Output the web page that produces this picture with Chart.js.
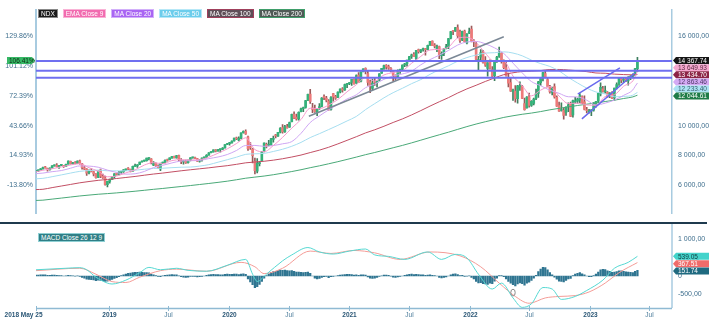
<!DOCTYPE html>
<html>
<head>
<meta charset="utf-8">
<title>NDX weekly</title>
<script src="https://cdn.jsdelivr.net/npm/chart.js@4.4.0/dist/chart.umd.min.js"></script>
<style>
  html, body { margin: 0; padding: 0; background: #fff; width: 715px; height: 332px; overflow: hidden; }
  #wrap { position: relative; width: 715px; height: 332px; font-family: "Liberation Sans", Arial, sans-serif; }
  #cPrice { position: absolute; left: 0; top: 0; }
  #cMacd { position: absolute; left: 0; top: 224px; }
  #legend { position: absolute; left: 38px; top: 9px; display: flex; gap: 5px; }
  .lg { font-size: 6.5px; line-height: 7px; height: 7px; padding: 0 2px; color: #fff; white-space: nowrap; border: 1px solid transparent; }
  #macdLegend { position: absolute; left: 38px; top: 226px; }
</style>
</head>
<body>
<div id="wrap">
  <canvas id="cPrice" width="715" height="224"></canvas>
  <canvas id="cMacd" width="715" height="108"></canvas>
  <div id="legend">
    <span class="lg" style="background:#1b1b1b;border-color:#888">NDX</span>
    <span class="lg" style="background:#f26cb0;border-color:#f9b3d6">EMA Close 9</span>
    <span class="lg" style="background:#a965f3;border-color:#d2b0fa">MA Close 20</span>
    <span class="lg" style="background:#6ccdec;border-color:#b7e8f7">MA Close 50</span>
    <span class="lg" style="background:#5f4f58;border-color:#a0405c">MA Close 100</span>
    <span class="lg" style="background:#505a56;border-color:#3f9e6a">MA Close 200</span>
  </div>
  <div id="macdLegend"><span class="lg" style="background:#2f7f86;border-color:#8fd0d4">MACD Close 26 12 9</span></div>
</div>
<script>
const FONT = '"Liberation Sans", Arial, sans-serif';

// ---- weekly NDX candles, one per week starting 2018-05-25 ----
const wkOpen = [
6930,6975,7040,7110,7200,7150,7050,7170,7310,7360,
7240,7340,7330,7280,7430,7620,7460,7530,7460,7640,
7450,7170,7090,6840,6970,6920,6750,6540,7050,6620,
6500,6050,6260,6390,6580,6760,6730,6880,6920,7040,
7090,7080,6960,7280,7300,7400,7570,7630,7660,7800,
7780,7350,7480,7290,7110,7490,7540,7680,7720,7830,
7940,7850,8000,7650,7580,7620,7520,7690,7850,7850,
7800,7630,7720,7840,7870,8030,8200,8250,8380,8300,
8400,8420,8520,8740,8800,8850,8980,9180,9040,9150,
9530,9630,9250,8560,8430,7620,6960,7450,7650,8310,
8750,8690,8700,9090,9350,9300,9560,9880,9600,9930,
9900,10280,10760,10580,10460,10950,11150,11230,11700,12130,
11200,11150,10900,11210,11300,11900,11860,11660,11100,12150,
11950,11900,12270,12480,12400,12760,12820,12900,13100,12850,
13400,12980,13620,13850,13500,12950,12500,12920,12880,13050,
13520,13850,14050,13960,13850,13700,13330,13300,13700,13780,
14070,14150,14400,14650,14780,14500,15100,14980,15100,15160,
15120,15400,15680,15360,15150,15300,14700,14860,15170,15300,
15870,16330,16340,16580,16300,15740,16350,15560,16200,16480,
15630,15480,14350,14590,14940,14250,13850,14270,13750,13360,
14300,14650,14870,14300,13900,13200,12890,12300,12330,11810,
12600,12640,11480,11200,11950,11360,11500,11830,12160,12880,
13220,13500,13100,12620,12240,12630,11900,11350,11020,11040,
10890,11310,11500,10720,11600,11640,11720,11960,11600,11060,
10930,11000,11050,11500,11650,12130,12480,12280,12240,11980,
12230,11860,12540,12800,13170,13050,13130,13000,13250,13330,
13400,13830
];
const wkHigh = [
6990,7050,7125,7220,7280,7160,7175,7320,7380,7460,
7340,7400,7350,7430,7650,7630,7550,7600,7640,7700,
7480,7300,7120,7050,7130,6960,6790,6980,7090,6760,
6620,6290,6420,6600,6790,6830,6940,6960,7060,7100,
7200,7090,7290,7430,7390,7570,7640,7690,7830,7870,
7800,7600,7520,7380,7500,7560,7720,7760,7850,7950,
7970,8020,8040,7800,7670,7700,7700,7860,7900,7900,
7820,7730,7850,7900,8060,8200,8260,8380,8400,8420,
8430,8530,8740,8820,8880,8990,9180,9240,9260,9530,
9650,9720,9300,8880,8480,7830,7800,7600,8290,8860,
8840,9020,9160,9300,9430,9560,9880,10080,10020,10090,
10240,10780,10940,10780,10940,11180,11250,11700,12130,12440,
11500,11390,11150,11480,11880,12080,11970,11750,11950,12170,
12030,12280,12470,12560,12790,12850,12900,13110,13150,13420,
13560,13620,13820,13880,13650,13050,13130,13190,13010,13490,
13850,14060,14100,14070,13900,13720,13420,13740,13800,14080,
14190,14400,14650,14800,14900,15060,15140,15100,15200,15190,
15400,15660,15700,15500,15400,15340,14950,15170,15450,15860,
16330,16400,16600,16765,16420,16340,16420,16180,16550,16680,
15780,15600,14660,15100,15050,14640,14230,14420,13970,14320,
14650,15265,14910,14420,14360,13530,13230,12450,12690,12710,
12950,12710,11860,11960,12190,11690,11850,12460,12980,13200,
13580,13720,13220,12710,12590,12810,12000,11590,11530,11180,
11270,11530,11590,11720,11900,11850,12160,12010,12000,11230,
11100,11080,11560,11630,12180,12880,12640,12660,12290,12230,
12290,12530,12880,13200,13220,13200,13220,13290,13370,13480,
13850,14580
];
const wkLow = [
6900,6920,7030,7090,7160,6960,7020,7150,7290,7230,
7140,7320,7200,7270,7420,7420,7420,7440,7450,7420,
7080,7060,6670,6770,6900,6640,6490,6510,6510,6460,
6010,5899,6150,6380,6500,6690,6700,6770,6870,7010,
7050,6900,6950,7270,7210,7390,7550,7600,7620,7700,
7440,7330,7270,7120,6980,7460,7500,7620,7710,7820,
7840,7830,7660,7460,7420,7470,7490,7640,7820,7790,
7600,7550,7630,7810,7850,8020,8180,8230,8250,8290,
8230,8390,8500,8730,8700,8830,8960,9060,8980,9120,
9500,9420,8340,8410,7510,6771,6830,7300,7630,8250,
8510,8650,8690,8900,9180,9290,9510,9500,9550,9830,
9880,10250,10480,10380,10380,10920,10950,11180,11680,11500,
10880,10900,10680,11100,11260,11750,11600,11040,11050,11650,
11770,11880,12200,12250,12370,12550,12760,12700,12790,12840,
12880,12940,13600,13480,12700,12210,12400,12700,12600,13000,
13500,13780,13800,13780,13600,12990,13050,13250,13500,13740,
13960,14000,14390,14520,14630,14400,14860,14900,15000,14730,
15080,15390,15360,15220,14960,14500,14440,14700,15150,15170,
15820,16100,16320,15900,15590,15700,15600,15480,16180,15620,
15300,14430,13720,14370,14200,13980,13320,13790,13290,13020,
14250,14580,14200,13830,13330,12600,12300,11690,11580,11520,
12370,11820,11040,11180,11250,11300,11400,11750,11900,12700,
13000,13200,12600,12180,12060,11840,11300,10960,10970,10440,
10690,10950,10600,10580,11520,11510,11540,11480,11060,10860,
10840,10670,10980,11250,11570,12000,12250,12180,11910,11880,
11820,11700,12470,12700,12880,12880,12960,12720,13090,13200,
13370,13620
];
const wkClose = [
6960.85,7036,7105,7193,7175,7040,7160,7312,7357,7247,
7334,7355,7270,7419,7625,7452,7517,7468,7627,7464,
7188,7088,6823,6959,6935,6770,6511,6949,6613,6506,
6059,6266,6395,6582,6778,6740,6867,6914,7042,7068,
7089,6946,7273,7300,7378,7568,7628,7659,7827,7846,
7523,7509,7319,7127,7487,7518,7682,7671,7843,7944,
7847,8005,7726,7597,7614,7506,7692,7852,7861,7805,
7632,7723,7835,7868,8023,8191,8248,8376,8292,8406,
8410,8507,8731,8806,8823,8971,9173,9115,9151,9521,
9623,9446,8462,8530,7995,6994,7502,7528,8231,8833,
8634,8718,9121,9152,9325,9556,9824,9588,9946,9849,
10208,10768,10504,10461,10905,11138,11193,11691,12110,11626,
11088,10938,11117,11272,11857,11886,11717,11052,11894,11938,
11855,12258,12465,12377,12755,12804,12888,13105,12804,13367,
12925,13612,13807,13653,12909,12669,12867,12898,12977,13480,
13845,14041,13951,13860,13720,13380,13282,13686,13774,14069,
14142,14394,14640,14749,14630,15049,14959,15093,15172,15106,
15390,15652,15365,15333,15310,14789,14833,15146,15310,15850,
16319,16317,16573,16025,15712,16331,15644,16150,16320,15632,
15611,14438,14441,14908,14253,14053,14216,13838,13302,14304,
14608,14862,14322,13899,13358,12855,12317,12388,11835,12681,
12621,11832,11084,11925,11365,11636,11782,12157,12947,13153,
13558,13222,12636,12272,12535,11931,11312,10971,11048,10692,
11245,11405,10618,11678,11677,11786,12014,11529,11087,11004,
10940,11040,11541,11619,12167,12574,12305,12358,11918,12181,
11831,12520,12767,13181,13063,13080,13070,13246,13259,13340,
13828,14367.74
];

// ---- moving averages, read every fourth week ----
const maWeeks = [0,3,7,11,15,19,23,27,31,35,39,43,47,51,55,59,63,67,71,75,79,83,87,91,95,99,
  103,107,111,115,119,123,127,131,135,139,143,147,151,155,159,163,167,171,175,179,183,187,191,
  195,199,203,207,211,215,219,223,227,231,235,239,243,247,251,255,259,260,261];
const ema9 = [6912,7015,7117,7240,7370,7458,7182,6951,6579,6625,6841,7041,7361,7526,7446,7663,7723,
  7704,7726,7896,8159,8450,8805,9192,8402,8257,8672,9219,9842,10418,11173,11145,11385,11758,12278,
  12749,13229,13000,13404,13564,13686,14189,14649,15080,15120,15271,15871,15935,15582,14862,14303,
  14328,13330,12682,12004,12383,12628,11986,11489,11515,11395,11371,11953,12074,12646,13004,13300,13649.93];
const ma20 = [6790,6825,6919,6994,7152,7306,7294,7218,7026,6862,6753,6780,6934,7197,7344,7507,7635,
  7657,7673,7796,7905,8069,8340,8676,8679,8618,8676,8787,8938,9490,10216,10655,11066,11425,11795,
  12072,12551,12792,13112,13338,13470,13667,14086,14435,14729,15046,15411,15616,15650,15493,15219,
  14842,14196,13545,12963,12682,12381,12173,11944,11931,11711,11384,11517,11720,12036,12400,12640,12863.46];
const ma50 = [6440,6473,6583,6702,6826,6940,6995,7024,6979,6972,6974,7016,7084,7134,7150,7188,7218,
  7230,7292,7391,7555,7720,7891,8081,8118,8147,8275,8424,8624,8881,9206,9467,9742,10023,10321,
  10621,11080,11481,11871,12217,12510,12821,13094,13446,13743,14018,14327,14571,14737,14869,14896,
  14954,14873,14687,14401,14166,13976,13676,13242,12865,12524,12263,12133,11941,11965,12047,12140,12233.40];
const ma100 = [5720,5739,5850,5957,6064,6173,6260,6339,6398,6461,6530,6600,6682,6761,6826,6903,6979,
  7047,7112,7177,7252,7321,7413,7513,7567,7618,7691,7787,7902,8034,8200,8363,8557,8782,9021,
  9263,9517,9728,9965,10219,10456,10724,11014,11317,11606,11884,12192,12470,12712,12969,13205,
  13425,13551,13633,13663,13698,13770,13773,13737,13691,13626,13537,13518,13459,13430,13411,13423,13434.70];
const ma200 = [4990,5009,5079,5149,5220,5291,5350,5406,5449,5496,5552,5608,5671,5736,5794,5861,5925,
  5990,6059,6128,6202,6282,6377,6481,6554,6626,6715,6818,6929,7049,7186,7311,7448,7590,7741,
  7897,8059,8205,8363,8523,8680,8851,9031,9214,9391,9568,9756,9942,10113,10268,10411,
  10558,10669,10768,10849,10949,11067,11165,11259,11356,11444,11527,11623,11712,11825,11934,11990,12044.61];

// ---- drawn levels and trendlines (week index, price) ----
const levelLines = [14337, 13683, 13219];
const trendGray = [[118.4, 10635], [203, 15968]];
const trendBlueA = [[235.1, 12114], [253.4, 13886]];
const trendBlueB = [[236.9, 10463], [259.9, 13537]];

// ---- MACD (26, 12, 9) ----
const macdWeeks = [0,13,19,22,26,31,33,39,45,49,54,61,66,74,83,91,94,96,100,107,111,118,123,129,136,
  143,147,153,160,170,176,182,187,192,198,202,207,211,215,220,224,228,234,239,246,251,257,261];
const macdLine = [171,212,228,171,-33,-195,-220,-114,90,236,171,212,154,130,293,455,49,-150,49,415,
  578,780,659,602,683,740,578,537,455,659,455,593,496,49,-358,-195,-602,-861,-764,-317,
  -358,-642,-561,-398,-114,212,374,539.05];
const signalWeeks = [0,19,26,33,39,45,54,61,74,89,95,99,107,119,128,138,147,158,171,184,193,201,208,
  214,221,227,234,240,247,253,261];
const signalLine = [146,212,49,-154,-179,-33,146,187,130,374,252,65,212,683,618,700,634,455,659,553,
  252,-195,-561,-748,-602,-561,-537,-439,-195,90,367.51];
const macdHist = [
25,28,30,32,30,20,18,22,25,15,
10,8,0,5,20,10,5,-5,5,-10,
-40,-60,-90,-95,-100,-110,-130,-115,-120,-130,
-150,-140,-120,-95,-70,-45,-20,10,35,55,
70,80,95,100,100,105,100,95,90,85,
55,30,10,-15,-20,5,15,25,35,40,
30,30,5,-20,-35,-40,-30,-15,-10,-15,
-25,-20,-10,0,15,30,40,45,40,40,
35,35,45,50,45,45,55,50,40,55,
60,45,-80,-160,-240,-320,-290,-230,-150,-60,
10,60,100,120,130,150,165,155,160,150,
140,150,130,110,110,100,90,100,110,70,
0,-60,-80,-70,-40,-20,-15,-45,-20,-10,
0,10,25,30,40,45,45,40,25,35,
15,30,35,25,-25,-60,-70,-60,-40,-15,
5,25,25,15,-5,-30,-40,-25,-15,0,
20,35,45,50,40,45,40,35,30,20,
25,30,20,10,0,-40,-50,-40,-25,0,
35,50,60,40,10,15,-10,-5,5,-40,
-80,-150,-190,-180,-210,-220,-230,-200,-210,-140,
-60,10,10,-20,-80,-150,-200,-240,-270,-220,
-190,-210,-250,-200,-170,-120,-60,20,120,190,
240,230,170,90,30,-30,-90,-140,-150,-160,
-120,-80,-70,10,50,70,90,60,30,0,
-20,-20,10,50,110,170,180,175,140,130,
100,110,120,140,140,130,115,110,100,95,
130,151.74
];
const macdNote = [207, -456];

// ---- axis ticks ----
const priceTicks = [6000, 8000, 10000, 12000, 14000, 16000];
const macdTicks = [-500, 0, 500, 1000];
const dateTicks = ['2018-05-25','2019-01-01','2019-07-01','2020-01-01','2020-07-01','2021-01-01',
  '2021-07-01','2022-01-01','2022-07-01','2023-01-01','2023-07-01'];
const dateTickLabels = ['2018 May 25','2019','Jul','2020','Jul','2021','Jul','2022','Jul','2023','Jul'];

// ---------------------------------------------------------------------------
const X_MAX = 276;
const firstDay = Date.UTC(2018, 4, 25);
const weekOf = s => (Date.parse(s + 'T00:00:00Z') - firstDay) / (7 * 864e5);
const basePrice = wkClose[0];

const group3 = s => s.replace(/\B(?=(\d{3})+(?!\d))/g, ' ');
function axisFmt(v) {
  if (v === 0) return '0';
  const p = Math.abs(v).toFixed(2).split('.');
  return (v < 0 ? '-' : '') + group3(p[0]) + ',' + p[1];
}
function tagFmt(v) {
  const p = Math.abs(v).toFixed(2).split('.');
  return (v < 0 ? '-' : '') + group3(p[0]) + '.' + p[1];
}
const pctFmt = v => ((v / basePrice - 1) * 100).toFixed(2) + '%';
const pts = (xs, ys) => xs.map((x, i) => ({ x: x, y: ys[i] }));
const seg = a => a.map(p => ({ x: p[0], y: p[1] }));
const last = a => a[a.length - 1];

const UP = '#33b27a', DOWN = '#ee7a7a';
const dir = wkClose.map((c, i) => c >= wkOpen[i]);

function drawTag(ctx, x, y, w, h, bg, fg, text, pointLeft) {
  ctx.save();
  ctx.fillStyle = bg;
  ctx.beginPath();
  if (pointLeft) {
    ctx.moveTo(x, y); ctx.lineTo(x + 3, y - h / 2); ctx.lineTo(x + w, y - h / 2);
    ctx.lineTo(x + w, y + h / 2); ctx.lineTo(x + 3, y + h / 2);
  } else {
    ctx.moveTo(x, y); ctx.lineTo(x - 3, y - h / 2); ctx.lineTo(x - w, y - h / 2);
    ctx.lineTo(x - w, y + h / 2); ctx.lineTo(x - 3, y + h / 2);
  }
  ctx.closePath();
  ctx.fill();
  ctx.fillStyle = fg;
  ctx.font = '6.5px ' + FONT;
  ctx.textBaseline = 'middle';
  ctx.textAlign = 'left';
  ctx.fillText(text, pointLeft ? x + 5 : x - w + 2, y + 0.5);
  ctx.restore();
}

function stackTags(ctx, yScale, list, xLeft, w, h, step) {
  list.sort((a, b) => b.v - a.v);
  let y = yScale.getPixelForValue(list[0].v);
  list.forEach((t, i) => {
    if (i > 0) y += step;
    drawTag(ctx, xLeft, y, w, h, t.bg, t.fg, t.text(t.v), true);
  });
}

const lineDs = (data, color, width, order) => ({
  type: 'line', data: data, borderColor: color, borderWidth: width, pointRadius: 0,
  cubicInterpolationMode: 'monotone', fill: false, order: order
});

// ---- price panel ----
const priceOverlay = {
  id: 'priceOverlay',
  afterDraw(chart) {
    const ctx = chart.ctx, y = chart.scales.y;
    // panel separator
    ctx.save();
    ctx.strokeStyle = '#1f3a4e';
    ctx.lineWidth = 2;
    ctx.beginPath(); ctx.moveTo(0, 223); ctx.lineTo(707, 223); ctx.stroke();
    ctx.restore();
    // last-value tags
    stackTags(ctx, y, [
      { v: last(wkClose), bg: '#151515', fg: '#ffffff', text: tagFmt },
      { v: last(ema9), bg: '#f6a8cf', fg: '#5a2c44', text: tagFmt },
      { v: last(ma100), bg: '#8c2446', fg: '#ffffff', text: tagFmt },
      { v: last(ma20), bg: '#d4aaf4', fg: '#4d3866', text: tagFmt },
      { v: last(ma50), bg: '#ace3f4', fg: '#37606e', text: tagFmt },
      { v: last(ma200), bg: '#1e7c47', fg: '#ffffff', text: tagFmt }
    ], chart.chartArea.right + 1, 36, 7, 7.1);
    drawTag(ctx, chart.chartArea.left - 1, y.getPixelForValue(last(wkClose)), 28, 7,
      '#36b865', '#0d2a14', pctFmt(last(wkClose)), false);
  }
};

new Chart(document.getElementById('cPrice').getContext('2d'), {
  type: 'bar',
  data: {
    datasets: [
      lineDs(levelLines.length ? seg([[0, levelLines[0]], [X_MAX, levelLines[0]]]) : [], '#6f6ff0', 2, 0),
      lineDs(seg([[0, levelLines[1]], [X_MAX, levelLines[1]]]), '#6f6ff0', 2, 0),
      lineDs(seg([[0, levelLines[2]], [X_MAX, levelLines[2]]]), '#6f6ff0', 2, 0),
      lineDs(seg(trendGray), '#7b8896', 1.5, 0),
      lineDs(seg(trendBlueA), '#6a6aee', 1.5, 0),
      lineDs(seg(trendBlueB), '#6a6aee', 1.5, 0),
      lineDs(pts(maWeeks, ema9), '#f59acb', 1, 2),
      lineDs(pts(maWeeks, ma20), '#cfa6f3', 1, 2),
      lineDs(pts(maWeeks, ma50), '#a6def0', 1, 2),
      lineDs(pts(maWeeks, ma100), '#c24f64', 1, 2),
      lineDs(pts(maWeeks, ma200), '#4aa978', 1, 2),
      {
        type: 'bar', grouped: false, order: 6, barThickness: 1,
        data: wkLow.map((l, i) => ({ x: i, y: [l, wkHigh[i]] })),
        backgroundColor: dir.map(u => u ? '#3f7f5f' : '#9a5a5a')
      },
      {
        type: 'bar', grouped: false, order: 5, barThickness: 2, minBarLength: 1,
        data: wkOpen.map((o, i) => ({ x: i, y: [o, wkClose[i]] })),
        backgroundColor: dir.map(u => u ? UP : DOWN)
      }
    ]
  },
  options: {
    responsive: false, animation: false, devicePixelRatio: 1,
    layout: { padding: { top: 8, bottom: 1, left: 0, right: 0 } },
    plugins: { legend: { display: false }, tooltip: { enabled: false } },
    scales: {
      x: { type: 'linear', min: 0, max: X_MAX, offset: false, display: false },
      y: {
        position: 'right', min: 4095, max: 17746,
        afterFit: s => { s.width = 43; },
        afterBuildTicks: s => { s.ticks = priceTicks.map(v => ({ value: v })); },
        grid: { display: false, drawTicks: false },
        border: { display: true, color: '#a8cbe0', width: 1.5 },
        ticks: { autoSkip: false, padding: 6, color: '#3f6f8e', font: { size: 7, family: FONT }, callback: v => axisFmt(v) }
      },
      yPct: {
        position: 'left', min: 4095, max: 17746,
        afterFit: s => { s.width = 36; },
        afterBuildTicks: s => { s.ticks = priceTicks.map(v => ({ value: v })); },
        grid: { display: false, drawTicks: false },
        border: { display: true, color: '#a8cbe0', width: 2 },
        ticks: { autoSkip: false, padding: 3, color: '#3f6f8e', font: { size: 7, family: FONT }, callback: v => pctFmt(v) }
      }
    }
  },
  plugins: [priceOverlay]
});

// ---- MACD panel ----
const macdOverlay = {
  id: 'macdOverlay',
  afterDraw(chart) {
    const ctx = chart.ctx, x = chart.scales.x, y = chart.scales.y, a = chart.chartArea;
    ctx.save();
    // right border and time axis
    ctx.strokeStyle = '#a8cbe0';
    ctx.lineWidth = 1.5;
    ctx.beginPath(); ctx.moveTo(a.right, 0); ctx.lineTo(a.right, a.bottom); ctx.stroke();
    ctx.strokeStyle = '#8fbad3';
    ctx.beginPath(); ctx.moveTo(a.left, a.bottom + 0.5); ctx.lineTo(a.right, a.bottom + 0.5); ctx.stroke();
    ctx.lineWidth = 1;
    ctx.textBaseline = 'middle';
    dateTicks.forEach((d, i) => {
      const px = Math.round(x.getPixelForValue(weekOf(d))) + 0.5;
      ctx.strokeStyle = '#8fbad3';
      ctx.beginPath(); ctx.moveTo(px, a.bottom - 2); ctx.lineTo(px, a.bottom + 3); ctx.stroke();
      const lbl = dateTickLabels[i];
      const bold = lbl !== 'Jul';
      ctx.font = (bold ? 'bold ' : '') + '6.5px ' + FONT;
      ctx.fillStyle = bold ? '#2a5675' : '#4d7d9b';
      if (i === 0) { ctx.textAlign = 'right'; ctx.fillText(lbl, px + 6, a.bottom + 7.5); }
      else { ctx.textAlign = 'center'; ctx.fillText(lbl, px, a.bottom + 7.5); }
    });
    // marked spot
    ctx.strokeStyle = '#8a8a8a';
    ctx.lineWidth = 1;
    ctx.beginPath();
    ctx.ellipse(x.getPixelForValue(macdNote[0]), y.getPixelForValue(macdNote[1]), 2.2, 3.4, 0, 0, Math.PI * 2);
    ctx.stroke();
    ctx.restore();
    stackTags(ctx, y, [
      { v: last(macdLine), bg: '#43d3cb', fg: '#0f3b3d', text: v => v.toFixed(2) },
      { v: last(signalLine), bg: '#f06c6a', fg: '#ffffff', text: v => v.toFixed(2) },
      { v: last(macdHist), bg: '#1f6a80', fg: '#ffffff', text: v => v.toFixed(2) }
    ], a.right + 1, 36, 7, 7.3);
  }
};

new Chart(document.getElementById('cMacd').getContext('2d'), {
  type: 'bar',
  data: {
    datasets: [
      lineDs(pts(macdWeeks, macdLine), '#56d8d2', 1, 1),
      lineDs(pts(signalWeeks, signalLine), '#f49c97', 1, 2),
      {
        type: 'bar', grouped: false, order: 3, barThickness: 1.6,
        data: macdHist.map((h, i) => ({ x: i, y: h })),
        backgroundColor: '#2f7591'
      }
    ]
  },
  options: {
    responsive: false, animation: false, devicePixelRatio: 1,
    layout: { padding: { top: 1, bottom: 24, left: 36, right: 0 } },
    plugins: { legend: { display: false }, tooltip: { enabled: false } },
    scales: {
      x: { type: 'linear', min: 0, max: X_MAX, offset: false, display: false },
      y: {
        position: 'right', min: -878, max: 1146,
        afterFit: s => { s.width = 43; },
        afterBuildTicks: s => { s.ticks = macdTicks.map(v => ({ value: v })); },
        grid: { display: false, drawTicks: false },
        border: { display: false },
        ticks: { autoSkip: false, padding: 6, color: '#3f6f8e', font: { size: 7, family: FONT }, callback: v => axisFmt(v) }
      }
    }
  },
  plugins: [macdOverlay]
});
</script>
</body>
</html>
